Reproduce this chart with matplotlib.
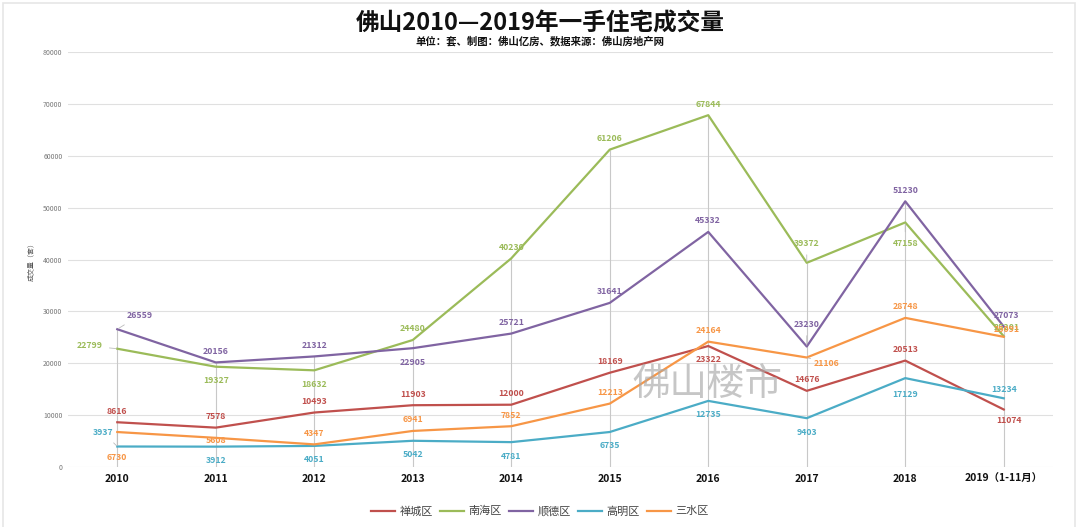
import matplotlib
matplotlib.use("Agg")
from matplotlib import pyplot as plt
from matplotlib.lines import Line2D
import matplotlib.patches as patches
import numpy as np

plt.rcParams['font.family'] = ['Noto Sans CJK SC', 'DejaVu Sans']

years = ['2010', '2011', '2012', '2013', '2014', '2015', '2016', '2017', '2018', '2019（1-11月）']
districts = ['禅城区', '南海区', '顺德区', '高明区', '三水区']

chancheng = [8616, 7578, 10493, 11903, 12000, 18169, 23322, 14676, 20513, 11074]
nanhai = [22799, 19327, 18632, 24480, 40230, 61206, 67844, 39372, 47158, 25201]
shunde = [26559, 20156, 21312, 22905, 25721, 31641, 45332, 23230, 51230, 27073]
gaoming = [3937, 3912, 4051, 5042, 4781, 6735, 12735, 9403, 17129, 13234]
sanshui = [6730, 5608, 4347, 6941, 7852, 12213, 24164, 21106, 28748, 25091]

series = [chancheng, nanhai, shunde, gaoming, sanshui]
colors = ['#C0504D', '#9BBB59', '#8064A2', '#4BACC6', '#F79646']

# label offsets in points (layout only)
U = (0, 8)
D = (0, -10)
offsets = [
    [U, U, U, U, U, U, D, U, U, (4, -8)],
    [(-20, 2), D, D, U, U, U, U, (0, 14), (0, -15), (2, 6)],
    [(16, 10), U, U, D, U, U, U, (0, 16), U, (2, 8)],
    [(-10, 10), D, D, D, D, D, D, D, (0, -12), (0, 6)],
    [(0, -18), (0, -2), U, U, U, U, U, (14, -4), U, (2, 5)],
]

fig = plt.figure(figsize=(10.8, 5.27), dpi=100)
ax = fig.add_axes([0.063, 0.114, 0.912, 0.787])

x = np.arange(len(years))

# drop lines
tops = np.max(np.array(series), axis=0)
ax.vlines(x, 0, tops, color='#C8C8C8', linewidth=0.8, zorder=1)

for vals, col, name, offs in zip(series, colors, districts, offsets):
    ax.plot(x, vals, color=col, linewidth=1.6, label=name, zorder=3)
    for xi, v, off in zip(x, vals, offs):
        arrow = None
        if abs(off[0]) + abs(off[1]) >= 14:
            arrow = dict(arrowstyle='-', color='#BBBBBB', linewidth=0.6, shrinkA=3, shrinkB=1)
        ax.annotate(str(v), (xi, v), xytext=off, textcoords='offset points',
                    ha='center', va='center', fontsize=6.3, fontweight='bold',
                    color=col, arrowprops=arrow, zorder=4)

ax.set_xlim(-0.5, len(years) - 0.5)
ax.set_ylim(0, 80000)
ax.set_yticks(np.arange(0, 80001, 10000))
ax.set_yticklabels([str(v) for v in range(0, 80001, 10000)], fontsize=5, color='#777777')
ax.set_xticks(x)
ax.set_xticklabels(years, fontsize=7.5, fontweight='bold', color='#111111')
ax.grid(axis='y', color='#E0E0E0', linewidth=0.8)
ax.set_axisbelow(True)
ax.tick_params(axis='both', length=0)
ax.tick_params(axis='y', pad=4)
ax.tick_params(axis='x', pad=5)
for s in ax.spines.values():
    s.set_visible(False)

ax.set_ylabel('成交量（套）', fontsize=5, color='#555555', labelpad=6)

fig.text(0.5, 0.956, '佛山2010—2019年一手住宅成交量', ha='center', va='center',
         fontsize=17, fontweight='bold', color='#111111')
fig.text(0.5, 0.922, '单位：套、制图：佛山亿房、数据来源：佛山房地产网', ha='center', va='center',
         fontsize=7.5, fontweight='bold', color='#111111')

fig.text(0.655, 0.27, '佛山楼市', ha='center', va='center', fontsize=27,
         color='#A8A8A8', alpha=0.65, fontweight='light', zorder=5)

handles = [Line2D([0], [0], color=c, linewidth=1.6) for c in colors]
fig.legend(handles, districts, loc='center', bbox_to_anchor=(0.5, 0.03), ncol=5,
           frameon=False, fontsize=8, handlelength=2.2, handletextpad=0.4,
           columnspacing=0.6, labelcolor='#444444')

fig.patches.append(patches.Rectangle((0.003, -0.01), 0.992, 1.005, transform=fig.transFigure,
                                     fill=False, edgecolor='#E6E6E6', linewidth=1.2))

fig.savefig('out.png', dpi=100)
